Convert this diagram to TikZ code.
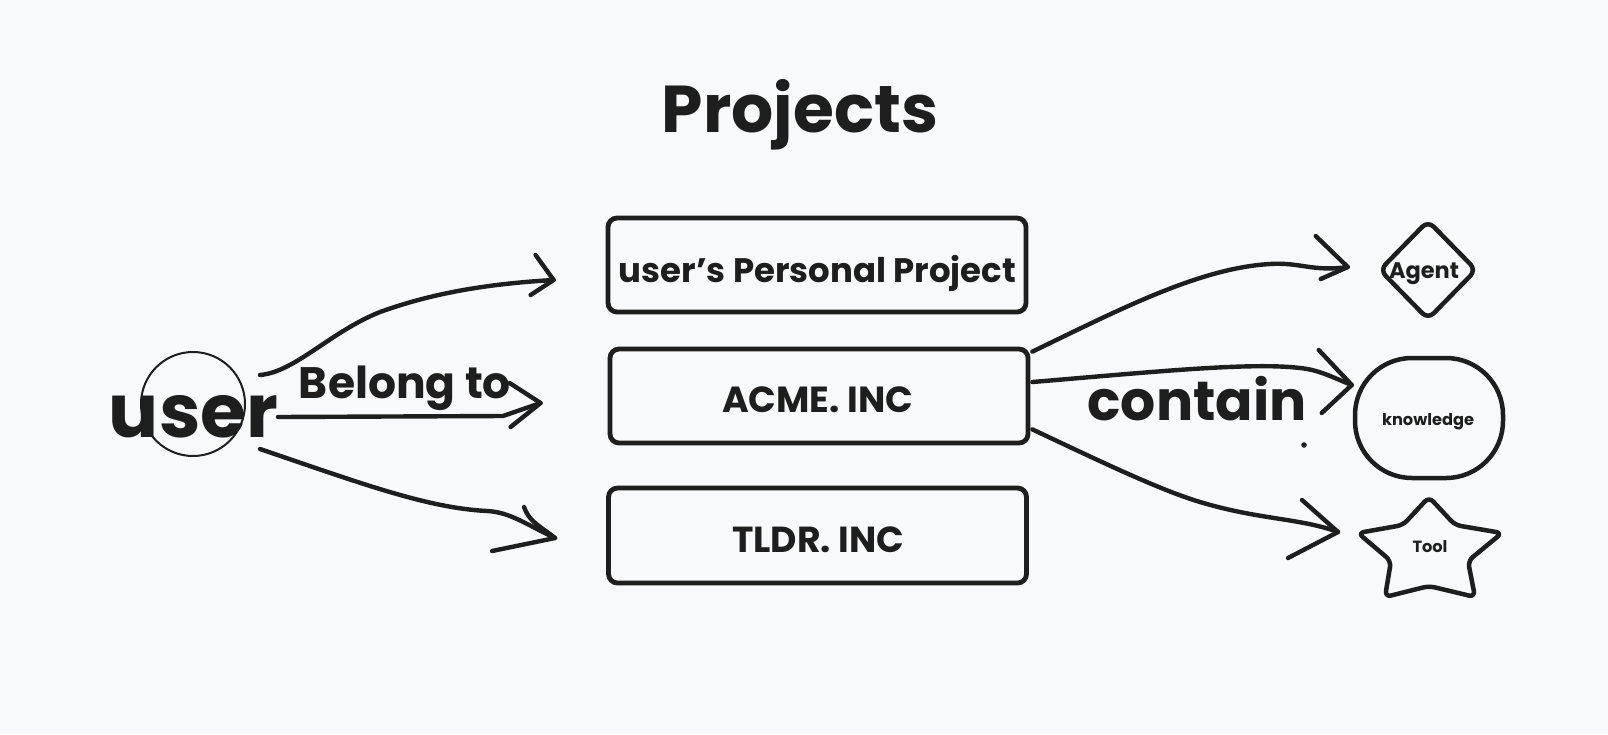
\documentclass[tikz,border=0pt]{standalone}
\usepackage{fontspec}
\setmainfont{Poppins}
\usetikzlibrary{shapes.geometric,calc}
\definecolor{bg}{RGB}{248,249,250}
\definecolor{ink}{RGB}{30,30,30}
\newcommand{\fitw}[2]{\resizebox{#1}{!}{#2}}
\begin{document}
\begin{tikzpicture}[x=1pt,y=-1pt,line cap=round,line join=round,
  projbox/.style={draw=ink,line width=4.8pt,rounded corners=9pt,minimum width=418pt,minimum height=94pt,inner sep=0pt},
  shapeline/.style={draw=ink,line width=4.5pt},
  lbl/.style={text=ink,inner sep=0pt,anchor=base,font=\bfseries},
  conn/.style={draw=ink,line width=4.4pt},
]
\fill[bg] (0,0) rectangle (1608,734);
\useasboundingbox (0,0) rectangle (1608,734);

% title
\node[lbl] (title) at (800,132) {\fitw{276pt}{Projects}};

% user
\node[draw=ink,line width=2pt,circle,minimum size=104pt,inner sep=0pt] (usercirc) at (193,404) {};
\node[lbl] (user) at (193.5,437) {\fitw{169pt}{user}};

% project boxes
\node[projbox] (box1) at (817,265) {};
\node[projbox] (box2) at (819,396) {};
\node[projbox,minimum height=95pt] (box3) at (817.5,535.5) {};
\node[lbl] (t1) at (817.5,282) {\fitw{397pt}{user's Personal Project}};
\node[lbl] (t2) at (817.5,412) {\fitw{191pt}{ACME. INC}};
\node[lbl] (t3) at (818,552) {\fitw{172pt}{TLDR. INC}};

% right shapes
\node[diamond,shapeline,rounded corners=8pt,minimum width=98pt,minimum height=100pt,inner sep=0pt] (agent) at (1428,270) {};
\node[lbl] (agentlbl) at (1424,278) {\fitw{70pt}{Agent}};
\node[shapeline,rounded corners=57pt,minimum width=148pt,minimum height=120pt,inner sep=0pt] (knowledge) at (1429,418) {};
\node[lbl] (knowlbl) at (1428,425) {\fitw{92pt}{knowledge}};
\draw[shapeline,rounded corners=6pt] (1429,497) -- (1403,525) -- (1358,533) -- (1391,561) -- (1385,597) -- (1429,586) -- (1475,597) -- (1468,561) -- (1502,533) -- (1455,525) -- cycle;
\node[lbl] (tool) at (1430,552) {\fitw{35pt}{Tool}};

% connector labels
\node[lbl] (belong) at (405,398) {\fitw{212pt}{Belong to}};
\node[lbl] (contain) at (1197,420) {\fitw{219pt}{contain}};

% left connectors
\coordinate (s1) at ($(usercirc.center)+(67,-29)$);
\coordinate (e1) at ($(box1.west)+(-52,15)$);
\draw[conn] (s1) .. controls +(35,-3) and +(-50,20) .. (380,312) .. controls +(50,-18) and +(-70,4) .. (e1);
\draw[conn] ($(e1)+(-18,-25)$) -- (e1) -- ($(e1)+(-23,15)$);

\coordinate (s2) at ($(usercirc.center)+(85,13)$);
\coordinate (e2) at ($(box2.west)+(-67,7)$);
\draw[conn] (s2) -- (503,416) -- (e2);
\draw[conn] ($(e2)+(-31,-20)$) -- (e2) -- ($(e2)+(-30,24)$);

\coordinate (s3) at ($(usercirc.center)+(67,45)$);
\coordinate (e3) at ($(box3.west)+(-51,2.5)$);
\draw[conn] (s3) .. controls +(100,34) and +(-60,-3) .. (487,511) .. controls +(23,1) and +(-28,-13) .. (e3);
\draw[conn] ($(e3)+(-31,-31)$) .. controls +(5,15) and +(-15,-12) .. (e3) -- ($(e3)+(-63,13)$);

% right connectors
\coordinate (r1) at ($(box2.north east)+(2,5)$);
\coordinate (a1) at ($(agent.west)+(-29,-3)$);
\draw[conn] (r1) .. controls +(89,-43) and +(-70,4) .. (1270,264) .. controls +(30,-2) and +(-35,5) .. (a1);
\draw[conn] ($(a1)+(-32,-31)$) -- (a1) -- ($(a1)+(-27,12)$);

\coordinate (r2) at ($(box2.east)+(2,-14)$);
\coordinate (a2) at ($(knowledge.west)+(-1,-33)$);
\draw[conn] (r2) .. controls +(120,-10) and +(-50,-6) .. (1300,368) .. controls +(20,2) and +(-18,-7) .. (a2);
\draw[conn] ($(a2)+(-33,-35)$) -- (a2) -- ($(a2)+(-30,28)$);

\coordinate (r3) at ($(box2.south east)+(2,-16)$);
\coordinate (a3) at ($(tool.base)+(-92,-20)$);
\draw[conn] (r3) .. controls +(70,33) and +(-40,-12) .. (1200,502) .. controls +(60,18) and +(-38,-14) .. (a3);
\draw[conn] ($(a3)+(-36,-32)$) -- (a3) -- ($(a3)+(-50,26)$);

\coordinate (dot) at (1304,445);
\fill[ink] (dot) circle (2.8pt);
\end{tikzpicture}
\end{document}
